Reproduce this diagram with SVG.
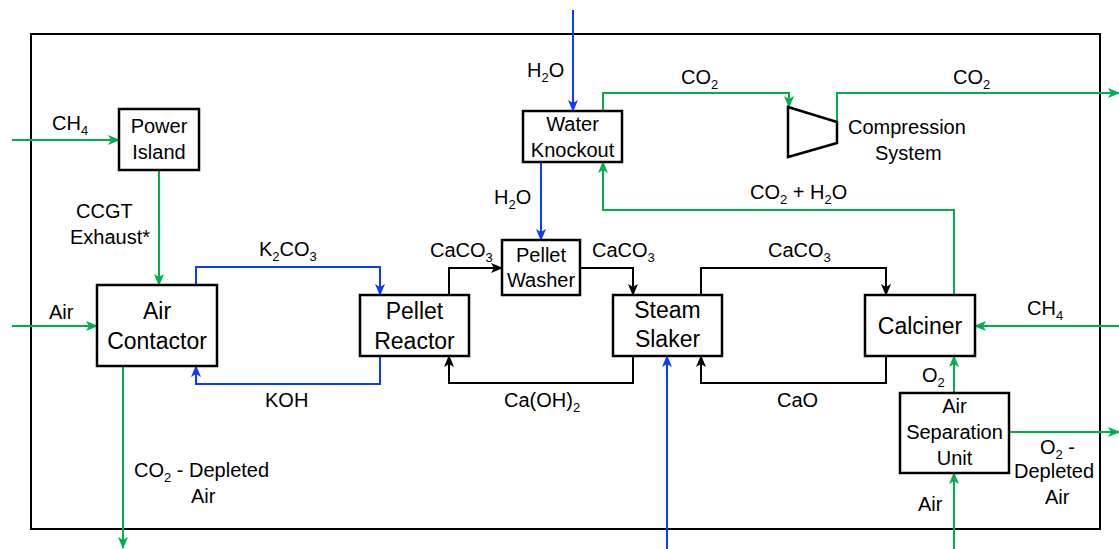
<svg xmlns="http://www.w3.org/2000/svg" width="1119" height="549" viewBox="0 0 1119 549">
<defs>
<style>
text{font-family:"Liberation Sans",Arial,sans-serif;fill:#000}
.lbl{font-size:20px}
.big{font-size:23px}
.sub{font-size:13px}
.mid{text-anchor:middle}
.box{fill:#fff;stroke:#000;stroke-width:2.5}
.g{fill:none;stroke:#00b050;stroke-width:2}
.b{fill:none;stroke:#0a3cff;stroke-width:2}
.k{fill:none;stroke:#000;stroke-width:2}
.ga{marker-end:url(#ag)}
.ba{marker-end:url(#ab)}
.ka{marker-end:url(#ak)}
</style>
<marker id="ag" markerWidth="12" markerHeight="10" refX="11" refY="5" orient="auto" markerUnits="userSpaceOnUse"><path d="M0,0 L12,5 L0,10 L3,5 z" fill="#00b050"/></marker>
<marker id="ab" markerWidth="12" markerHeight="10" refX="11" refY="5" orient="auto" markerUnits="userSpaceOnUse"><path d="M0,0 L12,5 L0,10 L3,5 z" fill="#0a3cff"/></marker>
<marker id="ak" markerWidth="12" markerHeight="10" refX="11" refY="5" orient="auto" markerUnits="userSpaceOnUse"><path d="M0,0 L12,5 L0,10 L3,5 z" fill="#000"/></marker>
</defs>
<rect x="31" y="34" width="1069" height="495" fill="none" stroke="#000" stroke-width="2"/>
<g id="connectors">
<path class="g ga" d="M12,140 H119"/>
<path class="g ga" d="M159,170 V285"/>
<path class="g ga" d="M12,326 H97"/>
<path class="g ga" d="M123,366 V548"/>
<path class="b ba" d="M196,285 V267 H380 V295"/>
<path class="b ba" d="M380,356 V384 H196 V366"/>
<path class="k ka" d="M449,295 V268 H502"/>
<path class="k ka" d="M580,268 H633 V295"/>
<path class="k ka" d="M701,295 V268 H886 V295"/>
<path class="k ka" d="M886,356 V383 H701 V356"/>
<path class="k ka" d="M633,356 V383 H449 V356"/>
<path class="b ba" d="M667,549 V356"/>
<path class="b ba" d="M573,10 V111"/>
<path class="b ba" d="M541,162 V240"/>
<path class="g ga" d="M603,111 V93 H789 V107"/>
<path class="g ga" d="M837,122 V93 H1119"/>
<path class="g ga" d="M954,295 V210 H603 V162"/>
<path class="g ga" d="M1119,326 H975"/>
<path class="g ga" d="M954,393 V356"/>
<path class="g ga" d="M954,549 V473"/>
<path class="g ga" d="M1009,432 H1119"/>
</g>
<g id="labels">
<text class="lbl" x="52" y="130">CH<tspan class="sub" dy="5">4</tspan></text>
<text class="lbl" x="76" y="218">CCGT</text>
<text class="lbl" x="70" y="244">Exhaust*</text>
<text class="lbl" x="259" y="256">K<tspan class="sub" dy="5">2</tspan><tspan dy="-5">CO</tspan><tspan class="sub" dy="5">3</tspan></text>
<text class="lbl" x="49" y="319">Air</text>
<text class="lbl" x="265" y="407">KOH</text>
<text class="lbl" x="134" y="477">CO<tspan class="sub" dy="5">2</tspan><tspan dy="-5"> - Depleted</tspan></text>
<text class="lbl" x="191" y="503">Air</text>
<text class="lbl" x="430" y="257">CaCO<tspan class="sub" dy="5">3</tspan></text>
<text class="lbl" x="592" y="257">CaCO<tspan class="sub" dy="5">3</tspan></text>
<text class="lbl" x="768" y="257">CaCO<tspan class="sub" dy="5">3</tspan></text>
<text class="lbl" x="504" y="407">Ca(OH)<tspan class="sub" dy="5">2</tspan></text>
<text class="lbl" x="777" y="407">CaO</text>
<text class="lbl" x="1027" y="315">CH<tspan class="sub" dy="5">4</tspan></text>
<text class="lbl" x="922" y="382">O<tspan class="sub" dy="5">2</tspan></text>
<text class="lbl" x="918" y="511">Air</text>
<text class="lbl" x="1040" y="454">O<tspan class="sub" dy="5">2</tspan><tspan dy="-5"> -</tspan></text>
<text class="lbl" x="1014" y="478">Depleted</text>
<text class="lbl" x="1045" y="504">Air</text>
<text class="lbl" x="527" y="77">H<tspan class="sub" dy="5">2</tspan><tspan dy="-5">O</tspan></text>
<text class="lbl" x="494" y="204">H<tspan class="sub" dy="5">2</tspan><tspan dy="-5">O</tspan></text>
<text class="lbl" x="681" y="84">CO<tspan class="sub" dy="5">2</tspan></text>
<text class="lbl" x="953" y="84">CO<tspan class="sub" dy="5">2</tspan></text>
<text class="lbl" x="750" y="199">CO<tspan class="sub" dy="5">2</tspan><tspan dy="-5"> + H</tspan><tspan class="sub" dy="5">2</tspan><tspan dy="-5">O</tspan></text>
</g>
<g id="power-island"><rect class="box" x="119" y="109" width="80" height="61"/><text class="lbl mid" x="159" y="133">Power</text><text class="lbl mid" x="159" y="159">Island</text></g>
<g id="air-contactor"><rect class="box" x="97" y="285" width="120" height="81"/><text class="big mid" x="157" y="319">Air</text><text class="big mid" x="157" y="349">Contactor</text></g>
<g id="pellet-reactor"><rect class="box" x="360" y="295" width="109" height="61"/><text class="big mid" x="414.5" y="319">Pellet</text><text class="big mid" x="414.5" y="349">Reactor</text></g>
<g id="pellet-washer"><rect class="box" x="502" y="240" width="78" height="55"/><text class="lbl mid" x="541" y="262">Pellet</text><text class="lbl mid" x="541" y="287">Washer</text></g>
<g id="water-knockout"><rect class="box" x="523" y="111" width="99" height="51"/><text class="lbl mid" x="572.5" y="131">Water</text><text class="lbl mid" x="572.5" y="157">Knockout</text></g>
<g id="steam-slaker"><rect class="box" x="613" y="295" width="109" height="61"/><text class="big mid" x="667.5" y="318">Steam</text><text class="big mid" x="667.5" y="347">Slaker</text></g>
<g id="calciner"><rect class="box" x="865" y="295" width="110" height="61"/><text class="big mid" x="920" y="334">Calciner</text></g>
<g id="air-separation-unit"><rect class="box" x="900" y="393" width="109" height="80"/><text class="lbl mid" x="954.5" y="413">Air</text><text class="lbl mid" x="954.5" y="439">Separation</text><text class="lbl mid" x="954.5" y="465">Unit</text></g>
<g id="compression-system"><polygon points="788,107 837,122 837,143 788,157" fill="none" stroke="#000" stroke-width="2.5"/><text class="lbl" x="848" y="134">Compression</text><text class="lbl" x="875" y="160">System</text></g>
</svg>
